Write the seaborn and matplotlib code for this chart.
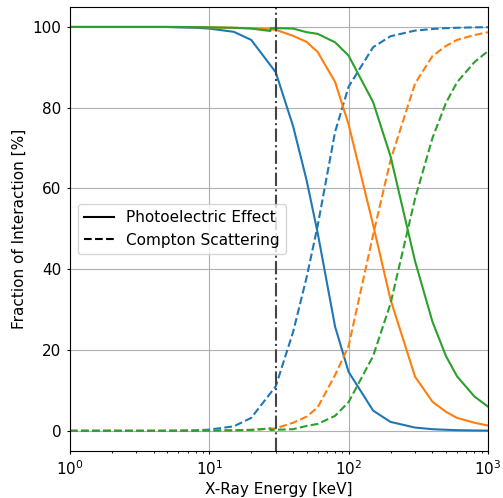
import numpy as np
import pandas as pd
import matplotlib
matplotlib.use("Agg")
import matplotlib.pyplot as plt
import seaborn as sns
from matplotlib.lines import Line2D

energy = [1, 1.5, 2, 3, 4, 5, 6, 8, 10, 15, 20, 30, 40, 50, 60, 80, 100,
          150, 200, 300, 400, 500, 600, 800, 1000]
energy_green = [1, 1.5, 2, 3, 4, 5, 6, 8, 10, 15, 20, 27.5, 27.5, 30, 40, 50, 60, 80, 100,
                150, 200, 300, 400, 500, 600, 800, 1000]

blue_photo = [100, 100, 100, 100, 100, 100, 99.9, 99.8, 99.6, 98.8, 96.8, 88.8, 75.4, 62.0,
              49.0, 25.8, 14.6, 5.0, 2.2, 0.8, 0.4, 0.25, 0.15, 0.08, 0.05]
blue_compton = [0, 0, 0, 0, 0, 0, 0.05, 0.1, 0.3, 1.1, 3.2, 11.0, 24.5, 38.0,
                50.8, 74.0, 85.2, 95.0, 97.7, 99.1, 99.5, 99.7, 99.8, 99.9, 99.95]
orange_photo = [100, 100, 100, 100, 100, 100, 100, 99.95, 99.9, 99.8, 99.7, 99.3, 97.8, 96.3,
                93.8, 86.4, 75.9, 51.0, 32.5, 13.4, 7.2, 4.7, 3.2, 2.0, 1.3]
orange_compton = [0, 0, 0, 0, 0, 0, 0, 0.02, 0.05, 0.15, 0.25, 0.6, 2.0, 3.5,
                  5.8, 13.8, 21.0, 48.5, 67.0, 86.0, 92.8, 95.3, 96.8, 98.0, 98.7]
green_photo = [100, 100, 100, 100, 100, 100, 100, 99.95, 99.9, 99.8, 99.6, 99.0, 99.7, 99.7,
               99.6, 98.7, 98.3, 96.2, 92.9, 81.4, 68.0, 42.0, 27.0, 18.5, 13.5, 8.5, 6.0]
green_compton = [0, 0, 0, 0, 0, 0, 0, 0.02, 0.05, 0.1, 0.2, 0.6, 0.2, 0.25,
                 0.4, 1.2, 1.7, 3.7, 7.1, 18.5, 31.5, 57.5, 72.5, 81.2, 86.3, 91.3, 94.0]

series = [
    ("C0", energy, blue_photo, blue_compton),
    ("C1", energy, orange_photo, orange_compton),
    ("C2", energy_green, green_photo, green_compton),
]

plt.rcParams["font.size"] = 11
plt.rcParams["xtick.major.size"] = 2.5
plt.rcParams["ytick.major.size"] = 2.5
plt.rcParams["xtick.minor.size"] = 1.5
plt.rcParams["ytick.minor.size"] = 1.5
fig = plt.figure(figsize=(5.03, 4.98), dpi=100)
ax = fig.add_axes([0.139, 0.0944, 0.831, 0.892])

for color, e, photo, compton in series:
    df = pd.DataFrame({"E": e, "photo": photo, "compton": compton})
    sns.lineplot(data=df, x="E", y="photo", color=color, linestyle="-",
                 estimator=None, sort=False, ax=ax, lw=1.5)
    sns.lineplot(data=df, x="E", y="compton", color=color, linestyle="--",
                 estimator=None, sort=False, ax=ax, lw=1.5)

ax.axvline(30, color="#444444", linestyle="-.", lw=1.5)
ax.set_xscale("log")
ax.set_xlim(1, 1000)
ax.set_ylim(-5, 105)
ax.set_yticks([0, 20, 40, 60, 80, 100])
ax.grid(True, which="major", color="#b0b0b0", lw=0.8)
ax.set_xlabel("X-Ray Energy [keV]", labelpad=3)
ax.set_ylabel("Fraction of Interaction [%]")

handles = [Line2D([], [], color="black", ls="-", lw=1.5),
           Line2D([], [], color="black", ls="--", lw=1.5)]
ax.legend(handles, ["Photoelectric Effect", "Compton Scattering"], loc="center left")

fig.savefig("out.png", dpi=100)
